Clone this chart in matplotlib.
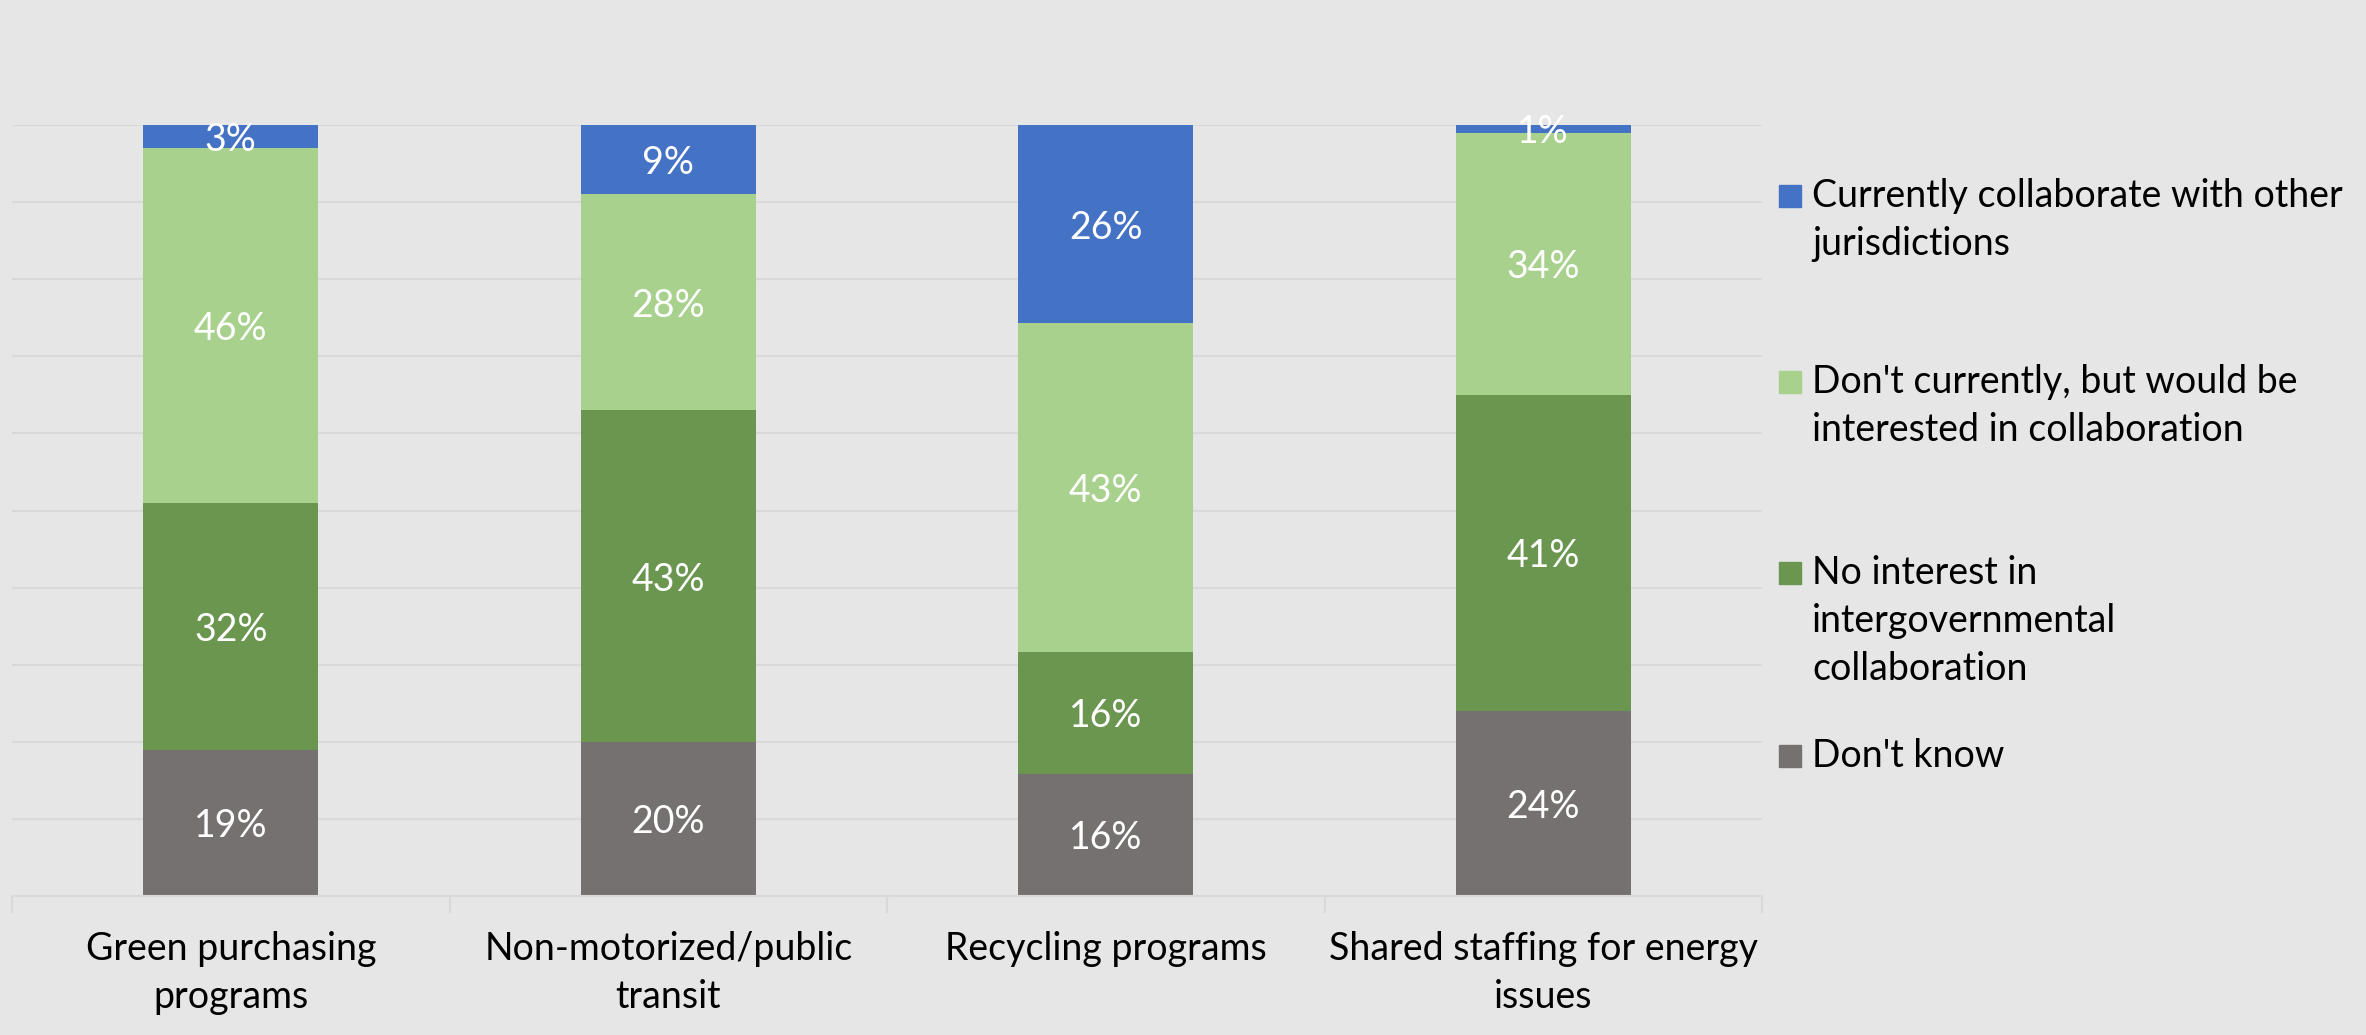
import numpy as np
import matplotlib.pyplot as plt
from matplotlib.patches import Rectangle

plt.rcParams['font.family'] = ['Lato', 'DejaVu Sans']

# Data (percent of respondents)
categories = ['Green purchasing\nprograms', 'Non-motorized/public\ntransit',
              'Recycling programs', 'Shared staffing for energy\nissues']
series = ["Don't know",
          'No interest in\nintergovernmental\ncollaboration',
          "Don't currently, but would be\ninterested in collaboration",
          'Currently collaborate with other\njurisdictions']
dont_know = [19, 20, 16, 24]
no_interest = [32, 43, 16, 41]
interested = [46, 28, 43, 34]
collaborate = [3, 9, 26, 1]

colors = ['#767171', '#6A9650', '#A9D18E', '#4472C4']
bg = '#E7E6E6'
grid_c = '#D9D9D9'

values = np.array([dont_know, no_interest, interested, collaborate], dtype=float)
shares = values / values.sum(axis=0)  # 100% stacked

W, H = 2366, 1035
fig = plt.figure(figsize=(W / 100, H / 100), dpi=100, facecolor=bg)
ax = fig.add_axes([12 / W, 1 - 896 / H, 1750 / W, 771 / H], facecolor=bg)

x = np.arange(len(categories))
bottom = np.zeros(len(categories))
for i in range(len(series)):
    ax.bar(x, shares[i], 0.4, bottom=bottom, color=colors[i], zorder=2)
    for j in range(len(categories)):
        ax.text(x[j], bottom[j] + shares[i][j] / 2, f'{int(values[i][j])}%',
                ha='center', va='center_baseline', color='white', fontsize=27,
                zorder=3)
    bottom += shares[i]

ax.set_xlim(-0.5, len(categories) - 0.5)
ax.set_ylim(0, 1)
ax.set_yticks(np.arange(0, 1.01, 0.1))
ax.yaxis.grid(True, color=grid_c, linewidth=1.5, zorder=0)
ax.tick_params(axis='y', left=False, labelleft=False)

ax.set_xticks(x)
ax.set_xticklabels(categories, fontsize=27, linespacing=1.43)
ax.tick_params(axis='x', length=0, pad=25)
ax.set_xticks(np.arange(-0.5, len(categories)), minor=True)
ax.tick_params(axis='x', which='minor', length=12, color=grid_c, width=1.5)

for s in ['top', 'right', 'left']:
    ax.spines[s].set_visible(False)
ax.spines['bottom'].set_color(grid_c)
ax.spines['bottom'].set_linewidth(1.5)

# Legend drawn by hand so the swatch sits on the first line of each entry
leg_y = [196, 382, 573, 756]
for k, i in enumerate(reversed(range(len(series)))):
    y = leg_y[k]
    fig.add_artist(Rectangle((1779 / W, 1 - (y + 11) / H), 22 / W, 22 / H,
                             transform=fig.transFigure, color=colors[i]))
    fig.text(1812 / W, 1 - (y - 18) / H, series[i], ha='left', va='top',
             fontsize=27, linespacing=1.42)

fig.savefig('out.png', dpi=100, facecolor=bg)
